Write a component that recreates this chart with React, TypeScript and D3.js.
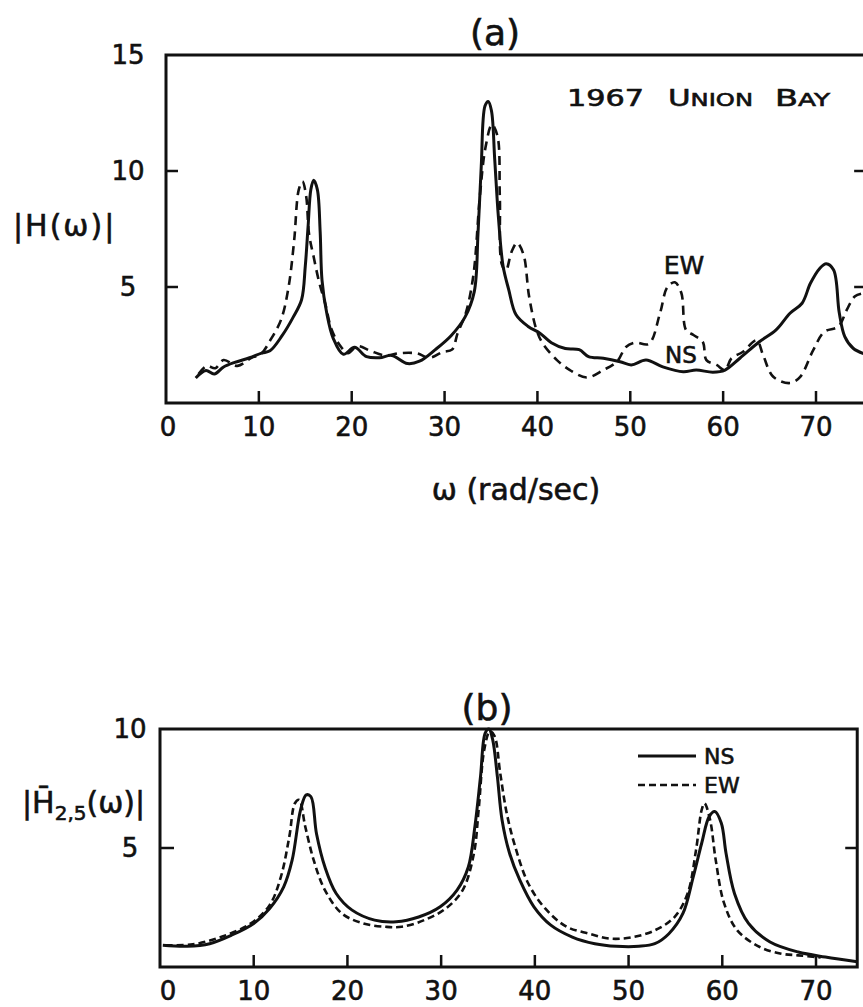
import React from "react";
import * as d3 from "d3";

// ---------- Data ----------
const xTicks = [10, 20, 30, 40, 50, 60, 70];
const xTickLabels = ["0", "10", "20", "30", "40", "50", "60", "70"];
const yTicksA = [5, 10];
const yTickLabelsA = ["5", "10", "15"];
const yTicksB = [5];
const yTickLabelsB = ["5", "10"];

// Panel (a): 1967 Union Bay, |H(w)|
const nsA: [number, number][] = [
  [3.2, 1.08], [4.3, 1.4], [5.2, 1.25], [6.2, 1.55], [7.4, 1.75], [9.0, 1.95], [10.3, 2.15], [11.2, 2.25],
  [12.5, 2.9], [13.7, 3.7], [14.6, 4.45], [15.0, 5.9], [15.3, 7.6], [15.6, 9.2], [15.9, 9.6],
  [16.3, 9.2], [16.6, 7.4], [16.8, 5.3], [17.3, 3.9], [18.0, 2.8], [19.1, 2.1], [20.3, 2.4],
  [21.6, 2.0], [23.0, 1.95], [24.3, 2.05], [26.0, 1.7], [27.3, 1.8], [29.0, 2.3], [30.7, 2.9],
  [32.2, 3.7], [33.2, 4.8], [33.6, 7.3], [33.95, 10.2], [34.35, 12.8], [34.7, 13.0], [35.05, 12.6],
  [35.4, 10.5], [35.8, 8.0], [36.3, 5.9], [36.9, 4.9], [37.7, 3.8], [39.0, 3.3], [40.3, 3.0],
  [41.5, 2.6], [43.0, 2.35], [44.5, 2.3], [45.5, 2.0], [47.1, 1.93], [48.9, 1.78], [50.1, 1.64],
  [51.7, 1.85], [53.5, 1.56], [55.7, 1.35], [57.1, 1.42], [58.9, 1.33], [60.2, 1.42], [61.8, 1.93],
  [63.9, 2.64], [65.7, 3.15], [67.2, 3.87], [68.5, 4.3], [69.4, 5.16], [70.4, 5.8], [71.1, 6.0],
  [71.9, 5.73], [72.5, 3.9], [73.1, 2.86], [74.0, 2.36], [75.3, 2.1]
];
const ewA: [number, number][] = [
  [3.5, 1.25], [4.4, 1.6], [5.3, 1.5], [6.2, 1.85], [7.7, 1.6], [9.2, 1.95], [10.2, 2.1], [11.3, 2.75],
  [12.4, 3.6], [13.2, 5.0], [13.8, 7.0], [14.3, 9.2], [14.7, 9.55], [15.1, 8.9], [15.4, 7.3],
  [15.9, 6.3], [16.5, 5.2], [17.2, 4.2], [17.8, 3.2], [18.7, 2.5], [19.6, 2.15], [20.6, 2.45],
  [22.0, 2.25], [23.6, 2.05], [25.2, 2.15], [27.0, 2.14], [28.4, 1.95], [29.8, 2.2], [30.8, 2.3],
  [31.4, 3.0], [32.3, 3.9], [33.1, 5.5], [33.8, 8.9], [34.4, 11.0], [35.1, 12.0], [35.7, 11.5],
  [35.95, 8.9], [36.15, 6.0], [36.6, 5.7], [37.2, 6.5], [37.8, 6.9], [38.5, 6.4], [39.1, 4.6],
  [39.9, 3.15], [40.6, 2.55], [42.1, 1.85], [43.5, 1.42], [45.3, 1.1], [47.1, 1.42], [48.6, 1.8],
  [49.5, 2.4], [50.5, 2.6], [52.0, 2.55], [53.2, 3.87], [54.0, 5.0], [54.8, 5.2], [55.5, 4.74],
  [56.0, 3.15], [56.8, 2.93], [57.8, 2.64], [58.2, 1.85], [59.3, 1.64], [60.2, 1.42], [60.9, 1.93],
  [62.1, 2.2], [63.6, 2.7], [64.3, 2.07], [65.4, 1.13], [67.2, 0.86], [68.3, 1.13], [69.7, 2.28],
  [70.9, 3.07], [72.4, 3.29], [73.3, 4.0], [74.2, 4.6], [75.3, 4.75]
];

// Panel (b): |H_2,5(w)|
const nsB: [number, number][] = [
  [0.3, 0.91], [2.9, 0.87], [5.3, 0.98], [7.6, 1.33], [10.0, 1.83], [11.7, 2.46], [13.2, 3.37],
  [14.1, 4.49], [15.0, 6.6], [15.6, 7.23], [16.1, 7.16], [16.7, 5.6], [17.6, 4.2], [18.8, 3.09],
  [20.5, 2.39], [22.9, 1.97], [25.2, 1.9], [27.6, 2.1], [29.9, 2.53], [31.7, 3.23], [32.9, 4.2],
  [33.6, 5.9], [34.2, 8.0], [34.7, 9.83], [35.1, 10.0], [35.5, 9.55], [36.0, 8.0], [36.5, 6.18],
  [37.3, 4.78], [38.4, 3.65], [39.9, 2.53], [41.7, 1.76], [44.0, 1.26], [46.4, 0.98], [48.7, 0.87],
  [51.1, 0.87], [52.8, 0.98], [54.3, 1.4], [55.8, 2.25], [56.9, 3.79], [57.8, 5.2], [58.6, 6.32],
  [59.2, 6.53], [59.9, 6.04], [60.4, 4.78], [61.3, 3.09], [62.8, 1.83], [65.1, 1.05], [68.1, 0.63],
  [71.0, 0.42], [74.4, 0.22]
];
const ewB: [number, number][] = [
  [0.6, 0.91], [3.5, 0.95], [6.5, 1.26], [9.7, 1.83], [11.7, 2.6], [12.9, 3.79], [13.8, 5.48],
  [14.4, 6.88], [14.85, 7.02], [15.5, 5.9], [16.4, 4.49], [17.6, 3.23], [19.4, 2.25], [21.7, 1.83],
  [24.1, 1.69], [25.8, 1.69], [28.2, 1.97], [30.5, 2.46], [32.3, 3.23], [33.5, 4.78], [34.0, 6.6],
  [34.6, 9.13], [35.2, 9.9], [35.7, 9.7], [36.3, 8.15], [37.0, 6.46], [37.9, 5.06], [39.3, 3.51],
  [41.1, 2.46], [43.4, 1.69], [45.8, 1.4], [48.1, 1.19], [50.5, 1.26], [52.8, 1.54], [54.9, 2.1],
  [56.3, 3.09], [57.2, 4.92], [57.8, 6.6], [58.1, 6.88], [58.7, 6.18], [59.3, 4.49], [60.2, 2.67],
  [61.6, 1.54], [64.0, 0.84], [66.3, 0.56], [68.1, 0.49], [70.5, 0.4]
];

const FONT = "DejaVu Sans";

export default function App() {
  // Panel (a) scales
  const xA = d3.scaleLinear().domain([0, 70]).range([166, 816]);
  const yA = d3.scaleLinear().domain([0, 15]).range([403, 55]);
  const rightA = xA(75.4);
  // Panel (b) scales
  const xB = d3.scaleLinear().domain([0, 70]).range([160, 816]);
  const yB = d3.scaleLinear().domain([0, 10]).range([967, 729]);
  const rightB = xB(74.4);

  const lineA = d3.line<[number, number]>().x(d => xA(d[0])).y(d => yA(d[1])).curve(d3.curveCatmullRom.alpha(0.5));
  const lineB = d3.line<[number, number]>().x(d => xB(d[0])).y(d => yB(d[1])).curve(d3.curveCatmullRom.alpha(0.5));

  const stroke = "#111";
  const tickLen = 12;
  const tx = { fill: stroke, stroke: stroke, strokeWidth: 0.6 };

  return (
    <svg width={863} height={1007} style={{ position: "absolute", left: 0, top: 0, background: "#fff" }}
      fontFamily={FONT}>
      <rect x={0} y={0} width={863} height={1007} fill="#fff" />
      {/* ---------- Panel (a) ---------- */}
      <text x={495} y={45} fontSize={36} textAnchor="middle" {...tx}>(a)</text>
      <path d={`M${rightA},${yA(15)} H${xA(0)} V${yA(0)} H${rightA}`} fill="none" stroke={stroke} strokeWidth={3} />
      {xTicks.map(t => (
        <line key={"xa" + t} x1={xA(t)} x2={xA(t)} y1={yA(0)} y2={yA(0) - tickLen} stroke={stroke} strokeWidth={2.5} />
      ))}
      {yTicksA.map(t => (
        <g key={"ya" + t}>
          <line x1={xA(0)} x2={xA(0) + tickLen} y1={yA(t)} y2={yA(t)} stroke={stroke} strokeWidth={2.5} />
          <line x1={rightA} x2={rightA - tickLen} y1={yA(t)} y2={yA(t)} stroke={stroke} strokeWidth={2.5} />
        </g>
      ))}
      {xTickLabels.map((l, i) => (
        <text key={"xla" + l} x={xA(i * 10) + (i === 0 ? 2 : 0)} y={436} fontSize={26} textAnchor="middle" {...tx}>{l}</text>
      ))}
      {yTickLabelsA.map((l, i) => (
        <text key={"yla" + l} x={128} y={yA((i + 1) * 5) + 9} fontSize={26} textAnchor="middle" {...tx}>{l}</text>
      ))}
      <text x={13} y={236} fontSize={30} letterSpacing={2} {...tx}>|H(ω)|</text>
      <text x={516} y={500} fontSize={30} textAnchor="middle" {...tx}>ω (rad/sec)</text>
      <text x={567} y={106} fontSize={23} textLength={77} lengthAdjust="spacingAndGlyphs" {...tx}>1967</text>
      <text x={668} y={106} fontSize={23} textLength={85} lengthAdjust="spacingAndGlyphs" {...tx}>
        U<tspan fontSize={18}>NION</tspan>
      </text>
      <text x={775} y={106} fontSize={23} textLength={55} lengthAdjust="spacingAndGlyphs" {...tx}>
        B<tspan fontSize={18}>AY</tspan>
      </text>
      <path d={lineA(ewA) || ""} fill="none" stroke={stroke} strokeWidth={2.6} strokeDasharray="9,6" />
      <path d={lineA(nsA) || ""} fill="none" stroke={stroke} strokeWidth={3} />
      <text x={684} y={274} fontSize={25} textAnchor="middle" {...tx}>EW</text>
      <text x={681} y={363} fontSize={23} textAnchor="middle" {...tx}>NS</text>

      {/* ---------- Panel (b) ---------- */}
      <text x={487} y={720} fontSize={36} textAnchor="middle" {...tx}>(b)</text>
      <rect x={xB(0)} y={yB(10)} width={rightB - xB(0)} height={yB(0) - yB(10)} fill="none" stroke={stroke} strokeWidth={3} />
      {xTicks.map(t => (
        <line key={"xb" + t} x1={xB(t)} x2={xB(t)} y1={yB(0)} y2={yB(0) - tickLen} stroke={stroke} strokeWidth={2.5} />
      ))}
      {yTicksB.map(t => (
        <g key={"yb" + t}>
          <line x1={xB(0)} x2={xB(0) + tickLen + 2} y1={yB(t)} y2={yB(t)} stroke={stroke} strokeWidth={2.5} />
          <line x1={rightB} x2={rightB - tickLen} y1={yB(t)} y2={yB(t)} stroke={stroke} strokeWidth={2.5} />
        </g>
      ))}
      {xTickLabels.map((l, i) => (
        <text key={"xlb" + l} x={xB(i * 10) + (i === 0 ? 8 : 0)} y={1000} fontSize={26} textAnchor="middle" {...tx}>{l}</text>
      ))}
      {yTickLabelsB.map((l, i) => (
        <text key={"ylb" + l} x={130} y={yB((i + 1) * 5) + 9} fontSize={26} textAnchor="middle" {...tx}>{l}</text>
      ))}
      <text x={22} y={813} fontSize={30} {...tx}>
        |H̄<tspan fontSize={20} dy={7}>2,5</tspan><tspan dy={-7}>(ω)|</tspan>
      </text>
      <path d={lineB(ewB) || ""} fill="none" stroke={stroke} strokeWidth={2.6} strokeDasharray="7,4" />
      <path d={lineB(nsB) || ""} fill="none" stroke={stroke} strokeWidth={3} />
      {/* legend */}
      <line x1={638} x2={696} y1={756} y2={756} stroke={stroke} strokeWidth={3} />
      <text x={704} y={764} fontSize={22} {...tx}>NS</text>
      <line x1={638} x2={696} y1={785} y2={785} stroke={stroke} strokeWidth={2.6} strokeDasharray="7,4" />
      <text x={704} y={793} fontSize={22} {...tx}>EW</text>
    </svg>
  );
}
